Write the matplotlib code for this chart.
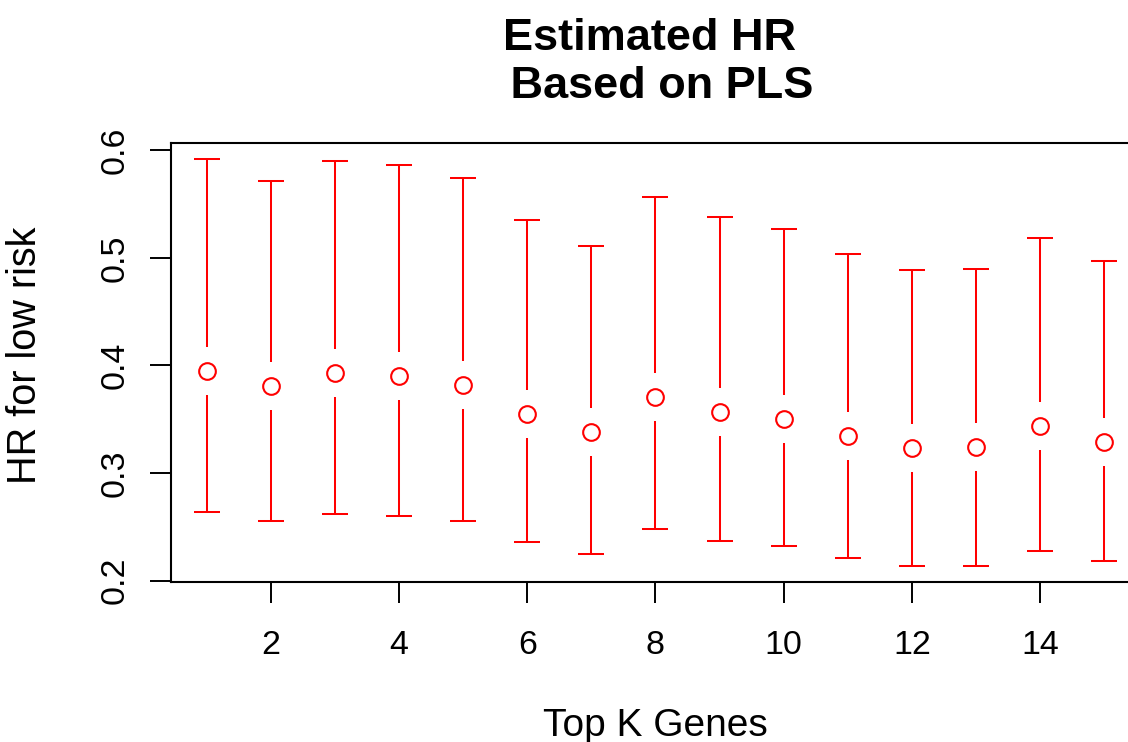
import numpy as np
import matplotlib
matplotlib.use("Agg")
import matplotlib.pyplot as plt

plt.rcParams['font.family'] = ['Liberation Sans', 'DejaVu Sans']

# hazard ratio estimates with lower / upper confidence limits
top_k = np.arange(1, 16)
hr = np.array([0.395, 0.381, 0.393, 0.390, 0.382, 0.355, 0.338, 0.371,
               0.357, 0.350, 0.334, 0.3235, 0.324, 0.344, 0.329])
hr_lower = np.array([0.264, 0.255, 0.262, 0.260, 0.255, 0.236, 0.225, 0.248,
                     0.237, 0.232, 0.221, 0.2135, 0.214, 0.228, 0.2185])
hr_upper = np.array([0.5915, 0.571, 0.590, 0.586, 0.574, 0.535, 0.511, 0.557,
                     0.538, 0.527, 0.504, 0.489, 0.490, 0.5185, 0.4975])
x_ticks = [2, 4, 6, 8, 10, 12, 14]
y_ticks = [0.2, 0.3, 0.4, 0.5, 0.6]

red = '#FF0000'

fig = plt.figure(figsize=(11.28, 7.42), dpi=100)
ax = fig.add_axes([0.1516, 0.2160, 0.8590, 0.5916])

# R-style limits: 4% padding around the data range
ax.set_xlim(0.44, 15.56)
ax.set_ylim(0.199, 0.607)

# open circles for the point estimates, lines leave a gap around them
gap_px = 24
inv = ax.transData.inverted()
gap = inv.transform((0, gap_px))[1] - inv.transform((0, 0))[1]

ax.vlines(top_k, hr_lower, hr - gap, color=red, lw=1.45)
ax.vlines(top_k, hr + gap, hr_upper, color=red, lw=1.45)
ax.plot(top_k, hr_lower, '_', color=red, ms=18.5, mew=1.45)
ax.plot(top_k, hr_upper, '_', color=red, ms=18.5, mew=1.45)
ax.plot(top_k, hr, 'o', mfc='none', mec=red, ms=12, mew=1.5)

for s in ax.spines.values():
    s.set_linewidth(1.5)

ax.set_xticks(x_ticks)
ax.set_yticks(y_ticks)
ax.set_yticklabels([f'{v:.1f}' for v in y_ticks])
ax.tick_params(length=15, width=1.4, labelsize=24.5)
ax.tick_params(axis='x', pad=20)
ax.tick_params(axis='y', pad=14)
plt.setp(ax.get_yticklabels(), rotation=90, va='center')

ax.set_xlabel('Top K Genes', fontsize=28)
ax.xaxis.set_label_coords(0.5, -0.287)
ax.set_ylabel('HR for low risk', fontsize=28.5)
ax.yaxis.label.set_va('center')
ax.yaxis.set_label_coords(-0.151, 0.515)

ax.set_title('Estimated HR \n Based on PLS', fontsize=32.5, fontweight='bold',
             va='bottom', pad=26, linespacing=1.2)

fig.savefig('out.png', dpi=100)
